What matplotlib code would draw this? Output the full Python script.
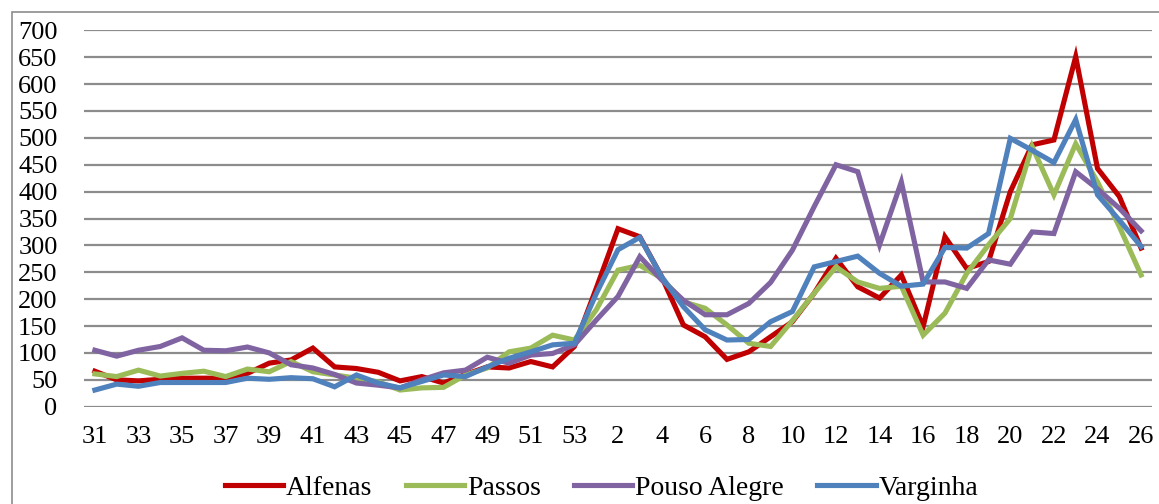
from __future__ import annotations

import matplotlib as mpl

mpl.use("Agg")

import matplotlib.pyplot as plt
from matplotlib.patches import Rectangle


WEEKS = list(range(31, 54)) + list(range(1, 27))

ALFENAS = [66, 50, 48, 51, 53, 53, 53, 62, 81, 87, 109, 74, 71, 64, 48, 56, 44, 60, 74, 72, 84, 74, 112,
           220, 331, 316, 242, 152, 130, 88, 102, 130, 158, 211, 276, 223, 202, 245, 149, 316, 257, 270,
           400, 487, 496, 651, 443, 391, 295]
PASSOS = [61, 56, 68, 57, 62, 66, 56, 70, 65, 84, 65, 59, 53, 46, 31, 35, 36, 59, 72, 102, 109, 133, 124,
          180, 254, 263, 239, 195, 183, 152, 118, 112, 160, 211, 260, 232, 220, 224, 133, 174, 248, 301,
          350, 484, 394, 489, 418, 335, 245]
POUSO_ALEGRE = [105, 94, 105, 112, 128, 105, 104, 111, 100, 78, 72, 60, 44, 40, 35, 50, 63, 68, 92, 81, 96,
                99, 115, 161, 205, 279, 236, 198, 171, 171, 192, 231, 291, 372, 450, 437, 301, 418, 232,
                232, 220, 273, 265, 325, 322, 437, 405, 369, 327]
VARGINHA = [31, 42, 38, 45, 45, 45, 45, 53, 51, 54, 52, 37, 59, 44, 35, 47, 59, 56, 74, 90, 102, 115, 118,
            210, 292, 315, 242, 186, 143, 124, 125, 158, 177, 260, 270, 280, 248, 224, 228, 296, 295, 322,
            499, 477, 454, 534, 394, 347, 298]

SERIES = [
    ("Alfenas", ALFENAS, "#C00000"),
    ("Passos", PASSOS, "#9BBB59"),
    ("Pouso Alegre", POUSO_ALEGRE, "#8064A2"),
    ("Varginha", VARGINHA, "#4F81BD"),
]

GRID = "#8C8C8C"

mpl.rcParams.update(
    {
        "font.family": ["Liberation Serif", "DejaVu Serif"],
        "font.size": 19,
        "axes.spines.top": False,
        "axes.spines.right": False,
        "axes.spines.left": False,
        "axes.spines.bottom": False,
    }
)


def main() -> int:
    w, h = 1159, 504
    fig = plt.figure(figsize=(w / 100, h / 100), dpi=100)
    ax = fig.add_axes([84 / w, 1 - 406.7 / h, (1152 - 84) / w, (406.7 - 30.3) / h])

    # chart-area frame, only top and left edges are visible in the crop
    fig.add_artist(Rectangle((12 / w, -0.1), 1.2, 1.1 - 12 / h, transform=fig.transFigure,
                             fill=False, ec=GRID, lw=1.2))

    x = list(range(len(WEEKS)))
    for name, vals, color in SERIES:
        ax.plot(x, vals, color=color, lw=3.7, label=name, solid_joinstyle="miter", zorder=3)

    ax.set_ylim(0, 700)
    ax.set_yticks(range(0, 701, 50))
    ax.yaxis.grid(True, color=GRID, lw=1.6, zorder=0)
    ax.set_axisbelow(True)
    ax.set_xlim(-0.5, len(WEEKS) - 0.5)
    ax.set_xticks(x[::2])
    ax.set_xticklabels([str(wk) for wk in WEEKS[::2]])
    ax.tick_params(axis="y", length=0, pad=19)
    ax.tick_params(axis="x", length=0, pad=14)

    fig.legend(loc="center", bbox_to_anchor=(601.5 / w, 1 - 488 / h), ncol=4, frameon=False, fontsize=20,
               handlelength=2.1, handletextpad=0.1, columnspacing=1.2, borderaxespad=0)

    fig.savefig("out.png", dpi=100)
    plt.close(fig)
    return 0


if __name__ == "__main__":
    raise SystemExit(main())
